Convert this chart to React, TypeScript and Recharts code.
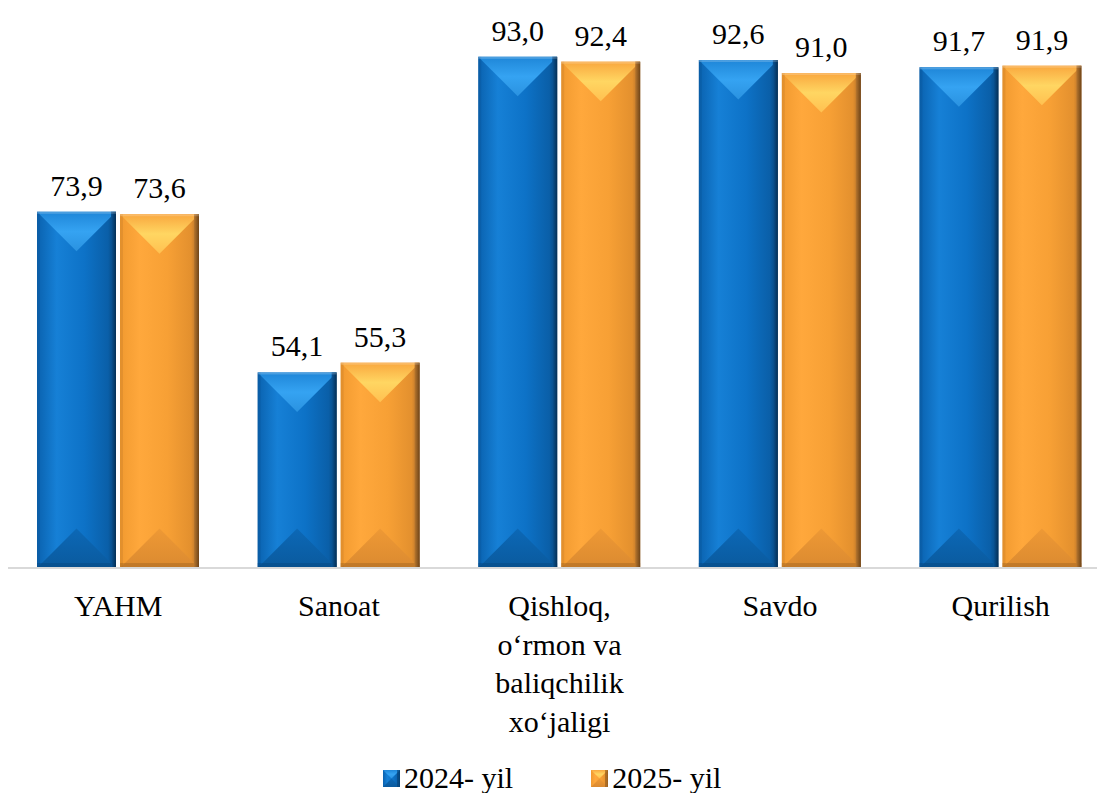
import React from "react"
import { BarChart, Bar, XAxis, YAxis, LabelList } from "recharts"

const categories = ["YAHM", "Sanoat", "Qishloq,\no‘rmon va\nbaliqchilik\nxo‘jaligi", "Savdo", "Qurilish"]
const values2024 = [73.9, 54.1, 93.0, 92.6, 91.7]
const values2025 = [73.6, 55.3, 92.4, 91.0, 91.9]
const seriesNames = ["2024- yil", "2025- yil"]

const FONT = "Liberation Serif, Tinos, Times New Roman, DejaVu Serif, serif"

const PALETTE: Record<string, { id: string; main: string; dark: string }> = {
  a: { id: "blue", main: "#0B6EC4", dark: "#053F73" },
  b: { id: "orange", main: "#F5A035", dark: "#8E581C" },
}

const data = categories.map((c, i) => ({ name: c, a: values2024[i], b: values2025[i] }))

const fmt = (v: any) => Number(v).toFixed(1).replace(".", ",")

function BevelBar(props: any) {
  const { x, y, width: w, height: h, dataKey } = props
  if (!w || !h || h <= 0) return null
  const p = PALETTE[dataKey as string] ?? PALETTE.a
  const d = Math.min(w / 2, h / 2)
  const id = p.id
  return (
    <g>
      <rect x={x} y={y} width={w} height={h} fill={`url(#${id}-side)`} />
      <polygon points={`${x},${y} ${x + w},${y} ${x + w / 2},${y + d}`} fill={`url(#${id}-top)`} />
      <polygon
        points={`${x},${y + h} ${x + w},${y + h} ${x + w / 2},${y + h - d}`}
        fill={`url(#${id}-bottom)`}
      />
      <rect x={x} y={y + h - 5} width={w} height={5} fill={p.dark} opacity={0.35} />
      <rect x={x + w - 5} y={y} width={5} height={h} fill={`url(#${id}-edge)`} />
      <rect x={x} y={y} width={3} height={h} fill={p.dark} opacity={0.15} />
      <rect x={x} y={y} width={w} height={2} fill="#fff" opacity={0.2} />
    </g>
  )
}

function CategoryTick(props: any) {
  const { x, y, payload } = props
  const lines = String(payload.value).split("\n")
  return (
    <text x={x} y={y + 48} textAnchor="middle" fontFamily={FONT} fontSize={30} fill="#000">
      {lines.map((l, i) => (
        <tspan key={i} x={x} dy={i === 0 ? 0 : 38.5}>{l}</tspan>
      ))}
    </text>
  )
}

function LegendIcon({ k }: { k: string }) {
  const id = PALETTE[k].id
  return (
    <svg width={17} height={17} style={{ marginRight: 4 }}>
      <rect x={0} y={0} width={17} height={17} fill={`url(#${id}-side)`} />
      <polygon points="0,0 17,0 8.5,8.5" fill={`url(#${id}-top)`} />
      <polygon points="0,17 17,17 8.5,8.5" fill={`url(#${id}-bottom)`} />
      <rect x={14} y={0} width={3} height={17} fill={PALETTE[k].dark} opacity={0.6} />
    </svg>
  )
}

export default function App() {
  return (
    <div style={{ position: "absolute", left: 0, top: 0, width: 1097, height: 793, overflow: "hidden", background: "#fff" }}>
      <BarChart
        width={1111}
        height={793}
        data={data}
        margin={{ top: 0, right: 0, left: 8, bottom: 40 }}
        barSize={79}
        barGap={4}
      >
        <defs>
          <linearGradient id="blue-side" x1="0" y1="0" x2="1" y2="0">
            <stop offset="0" stopColor="#0A62AF" />
            <stop offset="0.25" stopColor="#1680D6" />
            <stop offset="0.6" stopColor="#0D72C7" />
            <stop offset="0.9" stopColor="#0A5FA8" />
            <stop offset="1" stopColor="#064375" />
          </linearGradient>
          <linearGradient id="blue-top" x1="0" y1="0" x2="0" y2="1">
            <stop offset="0" stopColor="#1E86D8" />
            <stop offset="0.5" stopColor="#35A3F2" />
            <stop offset="1" stopColor="#2A92E0" />
          </linearGradient>
          <linearGradient id="blue-bottom" x1="0" y1="1" x2="0" y2="0">
            <stop offset="0" stopColor="#0A5A9E" />
            <stop offset="1" stopColor="#0C68B6" />
          </linearGradient>
          <linearGradient id="blue-edge" x1="0" y1="0" x2="1" y2="0">
            <stop offset="0" stopColor="#0A5698" />
            <stop offset="1" stopColor="#042F55" />
          </linearGradient>
          <linearGradient id="orange-side" x1="0" y1="0" x2="1" y2="0">
            <stop offset="0" stopColor="#F19A30" />
            <stop offset="0.25" stopColor="#FFA83C" />
            <stop offset="0.6" stopColor="#F7A035" />
            <stop offset="0.9" stopColor="#E3902E" />
            <stop offset="1" stopColor="#A8692A" />
          </linearGradient>
          <linearGradient id="orange-top" x1="0" y1="0" x2="0" y2="1">
            <stop offset="0" stopColor="#F9A73E" />
            <stop offset="0.5" stopColor="#FFD662" />
            <stop offset="1" stopColor="#FFC050" />
          </linearGradient>
          <linearGradient id="orange-bottom" x1="0" y1="1" x2="0" y2="0">
            <stop offset="0" stopColor="#DB8A30" />
            <stop offset="1" stopColor="#EE9935" />
          </linearGradient>
          <linearGradient id="orange-edge" x1="0" y1="0" x2="1" y2="0">
            <stop offset="0" stopColor="#B8772E" />
            <stop offset="1" stopColor="#6E4418" />
          </linearGradient>
        </defs>
        <XAxis
          dataKey="name"
          height={185}
          interval={0}
          tickLine={false}
          tickSize={0}
          tickMargin={0}
          axisLine={{ stroke: "#D9D9D9", strokeWidth: 2 }}
          tick={<CategoryTick />}
        />
        <YAxis hide domain={[30, 100]} allowDataOverflow />
        <Bar dataKey="a" name={seriesNames[0]} fill="#0B6EC4" shape={<BevelBar />} isAnimationActive={false}>
          <LabelList dataKey="a" position="top" offset={16} formatter={fmt}
            style={{ fontFamily: FONT, fontSize: 30, fill: "#000" }} />
        </Bar>
        <Bar dataKey="b" name={seriesNames[1]} fill="#F5A035" shape={<BevelBar />} isAnimationActive={false}>
          <LabelList dataKey="b" position="top" offset={16} formatter={fmt}
            style={{ fontFamily: FONT, fontSize: 30, fill: "#000" }} />
        </Bar>
      </BarChart>
      <div style={{ position: "absolute", top: 761, left: 383, display: "flex", alignItems: "center", fontFamily: FONT, fontSize: 30, color: "#000", lineHeight: "34px" }}>
        <span style={{ display: "flex", alignItems: "center" }}>
          <LegendIcon k="a" />{seriesNames[0]}
        </span>
        <span style={{ display: "flex", alignItems: "center", marginLeft: 78 }}>
          <LegendIcon k="b" />{seriesNames[1]}
        </span>
      </div>
    </div>
  )
}
